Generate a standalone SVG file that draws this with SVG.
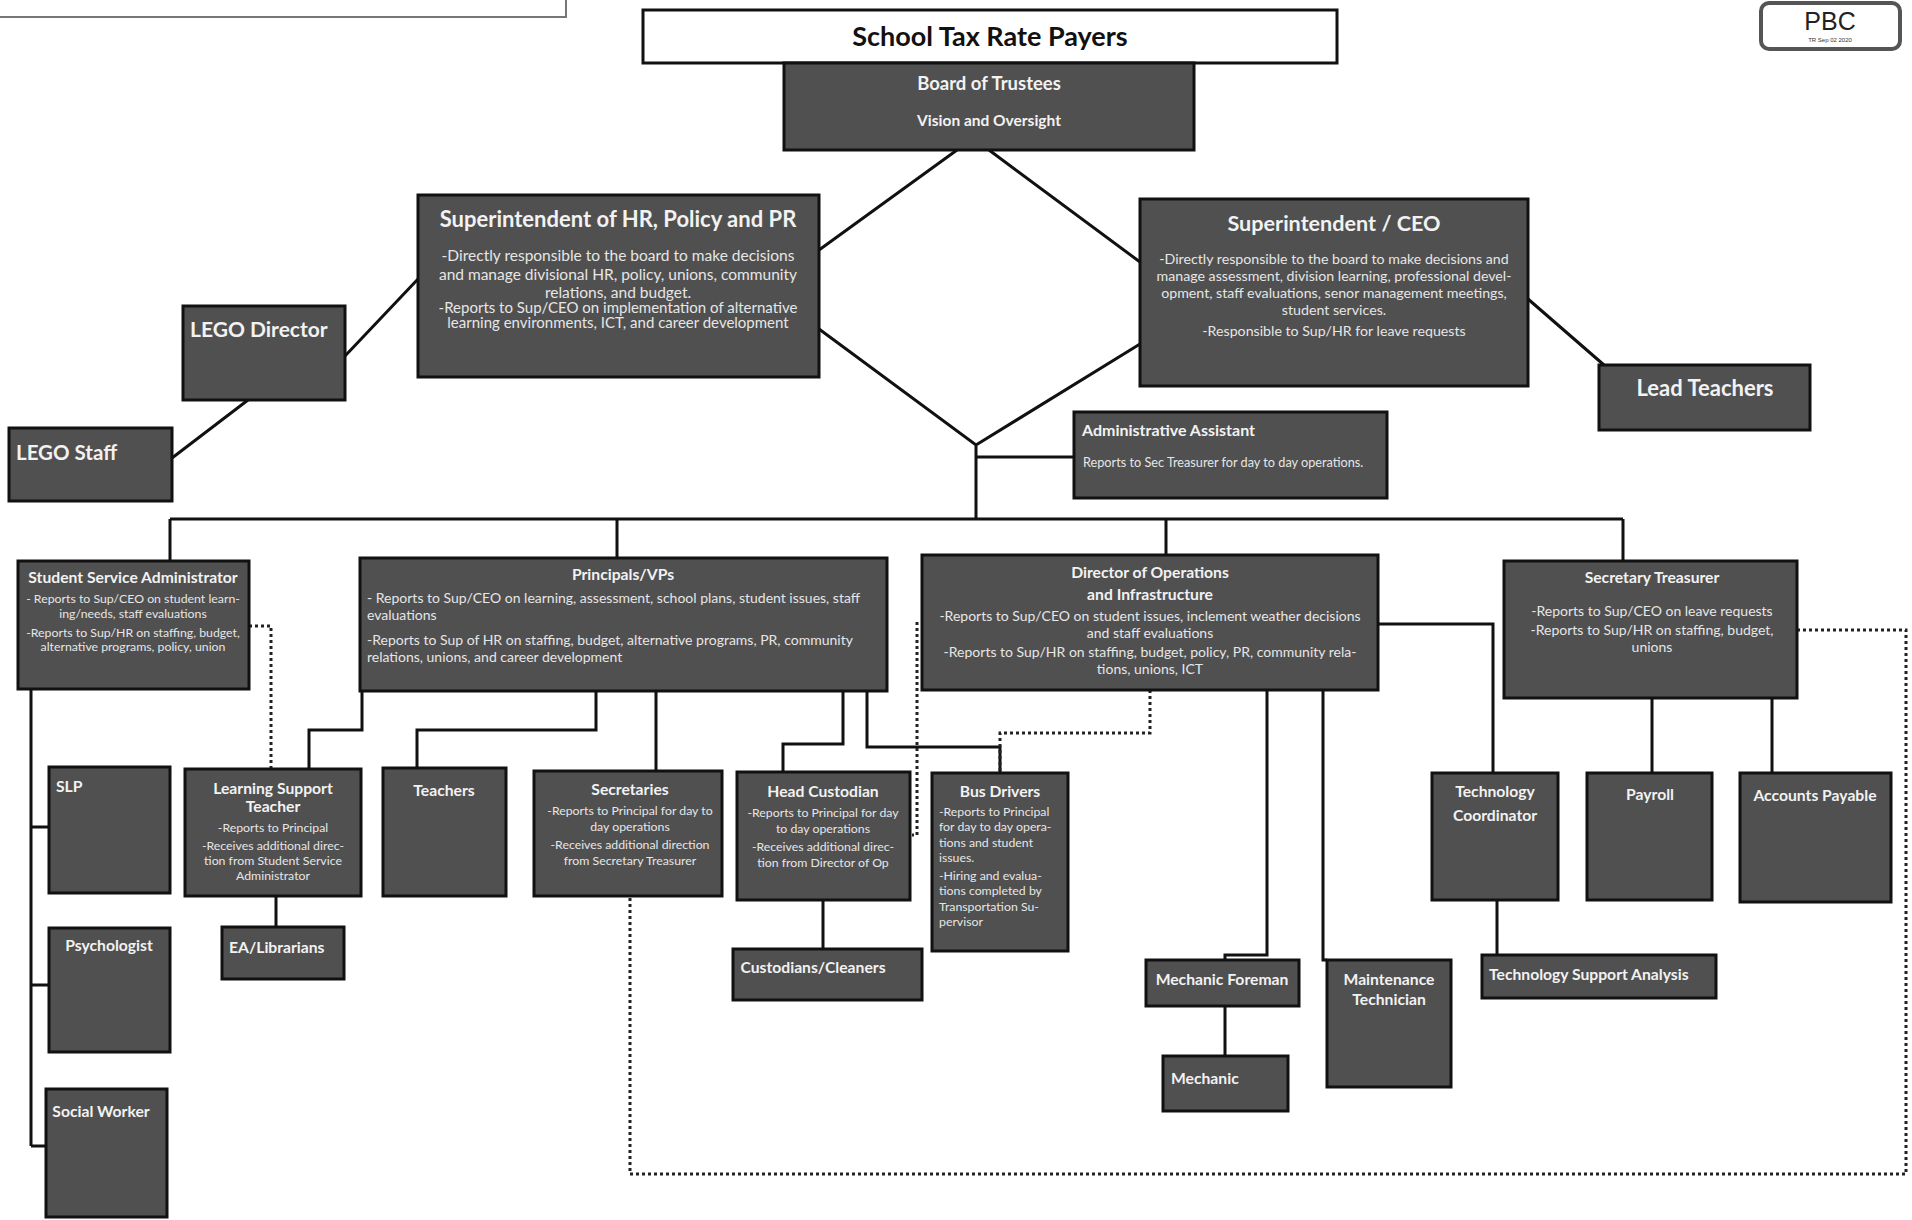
<svg xmlns="http://www.w3.org/2000/svg" width="1912" height="1220" viewBox="0 0 1912 1220">
<style>
.n{fill:#505050;stroke:#111;stroke-width:3}
.w{fill:#fff;stroke:#111;stroke-width:3}
.t{font-family:Lato,"Open Sans",sans-serif;font-weight:bold;fill:#f2f2f2;text-anchor:middle}
.s{font-size:15.7px}
.b{font-family:Lato,"Open Sans",sans-serif;fill:#e6e6e6;text-anchor:middle}
.l{text-anchor:start}
.c{fill:none;stroke:#111;stroke-width:3}
.d{fill:none;stroke:#222;stroke-width:3;stroke-dasharray:3 3}
</style>
<rect width="1912" height="1220" fill="#fff"/>
<path d="M0 17H566V0" fill="none" stroke="#777" stroke-width="2"/>
<g id="pbc">
<rect x="1761" y="3" width="139" height="46" rx="8" fill="#fff" stroke="#555" stroke-width="4"/>
<text x="1830" y="30" font-family="Liberation Sans,sans-serif" font-size="25" text-anchor="middle" fill="#222">PBC</text>
<text x="1830" y="42" font-family="Liberation Sans,sans-serif" font-size="6" text-anchor="middle" fill="#333">TR Sep 02 2020</text>
</g>
<g id="connectors">
<path class="c" d="M957 150L819 250M989 150L1140 262M819 329L976 445L1140 344M976 445V519M976 457H1074"/>
<path class="c" d="M345 356L418 279M172 458L248 400M1528 299L1604 365"/>
<path class="c" d="M170 519H1623M170 519V561M617 519V558M1166 519V555M1623 519V561"/>
<path class="c" d="M31 689V1146M31 827H49M31 985H49M31 1146H46"/>
<path class="c" d="M362 691V730H309V769M596 691V730H417V768M656 691V771M843 691V744H783V772M867 691V747H1000V773"/>
<path class="c" d="M276 896V927M823 900V949"/>
<path class="c" d="M1378 624H1493V773M1267 690V955H1225V960M1225 1006V1056M1323 690V960H1327M1497 900V955M1652 698V773M1772 698V773"/>
<path class="d" d="M249 626H271V769M917 622V835H912M1150 690V733H1000V773M1797 630H1906V1174H630V896"/>
</g>
<g id="taxpayers"><rect class="w" x="643" y="10" width="694" height="53"/><text x="990" y="46" font-family="Lato,sans-serif" font-weight="bold" font-size="27" text-anchor="middle" fill="#111">School Tax Rate Payers</text></g>
<g id="board"><rect class="n" x="784" y="63" width="410" height="87"/><text class="t" x="989" y="90" font-size="18.5">Board of Trustees</text><text class="t" x="989" y="126" font-size="15.5">Vision and Oversight</text></g>
<g id="supHR"><rect class="n" x="418" y="195" width="401" height="182"/><text class="t" x="618" y="227" font-size="22">Superintendent of HR, Policy and PR</text>
<text class="b" x="618" y="261" font-size="15.5">-Directly responsible to the board to make decisions</text>
<text class="b" x="618" y="280" font-size="15.5">and manage divisional  HR, policy,  unions, community</text>
<text class="b" x="618" y="298" font-size="15.5">relations, and budget.</text>
<text class="b" x="618" y="313" font-size="15">-Reports to Sup/CEO on implementation of alternative</text>
<text class="b" x="618" y="328" font-size="15">learning environments, ICT, and career development</text></g>
<g id="supCEO"><rect class="n" x="1140" y="199" width="388" height="187"/><text class="t" x="1334" y="231" font-size="21.6">Superintendent / CEO</text>
<text class="b" x="1334" y="264" font-size="14.2">-Directly responsible to the board to make decisions and</text>
<text class="b" x="1334" y="281" font-size="14.2">manage assessment, division learning, professional devel-</text>
<text class="b" x="1334" y="298" font-size="14.2">opment, staff evaluations, senor management meetings,</text>
<text class="b" x="1334" y="315" font-size="14.2">student services.</text>
<text class="b" x="1334" y="336" font-size="14.2">-Responsible to Sup/HR for leave requests</text></g>
<g id="legoDirector"><rect class="n" x="183" y="306" width="162" height="94"/><text class="t l" x="190" y="337" font-size="21">LEGO Director</text></g>
<g id="legoStaff"><rect class="n" x="9" y="428" width="163" height="73"/><text class="t l" x="16" y="460" font-size="20.5">LEGO Staff</text></g>
<g id="leadTeachers"><rect class="n" x="1599" y="365" width="211" height="65"/><text class="t" x="1705" y="396" font-size="22">Lead Teachers</text></g>
<g id="adminAssistant"><rect class="n" x="1074" y="412" width="313" height="86"/><text class="t l" x="1082" y="436" font-size="16">Administrative Assistant</text><text class="b l" x="1083" y="467" font-size="12.7">Reports to Sec Treasurer for day to day operations.</text></g>
<g id="ssa"><rect class="n" x="18" y="561" width="231" height="128"/><text class="t s" x="133" y="583">Student Service Administrator</text>
<text class="b" x="133" y="603" font-size="12.3">- Reports to Sup/CEO on student learn-</text>
<text class="b" x="133" y="618" font-size="12.3">ing/needs, staff evaluations</text>
<text class="b" x="133" y="637" font-size="12.3">-Reports to Sup/HR on staffing, budget,</text>
<text class="b" x="133" y="651" font-size="12.3">alternative programs, policy, union</text></g>
<g id="principals"><rect class="n" x="360" y="558" width="527" height="133"/><text class="t s" x="623" y="580">Principals/VPs</text>
<text class="b l" x="367" y="603" font-size="14">- Reports to Sup/CEO on learning, assessment, school plans, student issues, staff</text>
<text class="b l" x="367" y="620" font-size="14">evaluations</text>
<text class="b l" x="367" y="645" font-size="14">-Reports to Sup of HR on staffing, budget, alternative programs, PR, community</text>
<text class="b l" x="367" y="662" font-size="14">relations, unions, and career development</text></g>
<g id="dirOps"><rect class="n" x="922" y="555" width="456" height="135"/><text class="t s" x="1150" y="578">Director of Operations</text><text class="t s" x="1150" y="600">and Infrastructure</text>
<text class="b" x="1150" y="621" font-size="14">-Reports to Sup/CEO on student issues, inclement weather decisions</text>
<text class="b" x="1150" y="638" font-size="14">and staff evaluations</text>
<text class="b" x="1150" y="657" font-size="14">-Reports to Sup/HR on staffing, budget, policy, PR, community rela-</text>
<text class="b" x="1150" y="674" font-size="14">tions, unions, ICT</text></g>
<g id="secTreasurer"><rect class="n" x="1504" y="561" width="293" height="137"/><text class="t s" x="1652" y="583">Secretary Treasurer</text>
<text class="b" x="1652" y="616" font-size="14">-Reports to Sup/CEO on leave requests</text>
<text class="b" x="1652" y="635" font-size="14">-Reports to Sup/HR on staffing, budget,</text>
<text class="b" x="1652" y="652" font-size="14">unions</text></g>
<g id="slp"><rect class="n" x="49" y="767" width="121" height="126"/><text class="t l s" x="56" y="792">SLP</text></g>
<g id="psychologist"><rect class="n" x="49" y="928" width="121" height="124"/><text class="t s" x="109" y="951">Psychologist</text></g>
<g id="socialWorker"><rect class="n" x="46" y="1089" width="121" height="128"/><text class="t s" x="101" y="1117">Social Worker</text></g>
<g id="lst"><rect class="n" x="185" y="769" width="176" height="127"/><text class="t s" x="273" y="794">Learning Support</text><text class="t s" x="273" y="812">Teacher</text>
<text class="b" x="273" y="832" font-size="12.3">-Reports to Principal</text>
<text class="b" x="273" y="850" font-size="12.3">-Receives additional direc-</text>
<text class="b" x="273" y="865" font-size="12.3">tion from Student Service</text>
<text class="b" x="273" y="880" font-size="12.3">Administrator</text></g>
<g id="ea"><rect class="n" x="222" y="927" width="122" height="52"/><text class="t l s" x="229" y="953">EA/Librarians</text></g>
<g id="teachers"><rect class="n" x="383" y="768" width="123" height="128"/><text class="t s" x="444" y="796">Teachers</text></g>
<g id="secretaries"><rect class="n" x="534" y="771" width="188" height="125"/><text class="t s" x="630" y="795">Secretaries</text>
<text class="b" x="630" y="815" font-size="12.3">-Reports to Principal for day to</text>
<text class="b" x="630" y="831" font-size="12.3">day operations</text>
<text class="b" x="630" y="849" font-size="12.3">-Receives additional direction</text>
<text class="b" x="630" y="865" font-size="12.3">from Secretary Treasurer</text></g>
<g id="headCustodian"><rect class="n" x="737" y="772" width="173" height="128"/><text class="t s" x="823" y="797">Head Custodian</text>
<text class="b" x="823" y="817" font-size="12.3">-Reports to Principal for day</text>
<text class="b" x="823" y="833" font-size="12.3">to day operations</text>
<text class="b" x="823" y="851" font-size="12.3">-Receives additional direc-</text>
<text class="b" x="823" y="867" font-size="12.3">tion from Director of Op</text></g>
<g id="custodians"><rect class="n" x="733" y="949" width="189" height="51"/><text class="t s" x="813" y="973">Custodians/Cleaners</text></g>
<g id="busDrivers"><rect class="n" x="932" y="773" width="136" height="178"/><text class="t s" x="1000" y="797">Bus Drivers</text>
<text class="b l" x="939" y="816" font-size="12.3">-Reports to Principal</text>
<text class="b l" x="939" y="831" font-size="12.3">for day to day opera-</text>
<text class="b l" x="939" y="847" font-size="12.3">tions and student</text>
<text class="b l" x="939" y="862" font-size="12.3">issues.</text>
<text class="b l" x="939" y="880" font-size="12.3">-Hiring and evalua-</text>
<text class="b l" x="939" y="895" font-size="12.3">tions completed by</text>
<text class="b l" x="939" y="911" font-size="12.3">Transportation Su-</text>
<text class="b l" x="939" y="926" font-size="12.3">pervisor</text></g>
<g id="mechanicForeman"><rect class="n" x="1146" y="960" width="153" height="46"/><text class="t s" x="1222" y="985">Mechanic  Foreman</text></g>
<g id="mechanic"><rect class="n" x="1163" y="1056" width="125" height="55"/><text class="t l s" x="1171" y="1084">Mechanic</text></g>
<g id="maintenance"><rect class="n" x="1327" y="960" width="124" height="127"/><text class="t s" x="1389" y="985">Maintenance</text><text class="t s" x="1389" y="1005">Technician</text></g>
<g id="techCoord"><rect class="n" x="1432" y="773" width="126" height="127"/><text class="t s" x="1495" y="797">Technology</text><text class="t s" x="1495" y="821">Coordinator</text></g>
<g id="payroll"><rect class="n" x="1587" y="773" width="125" height="127"/><text class="t s" x="1650" y="800">Payroll</text></g>
<g id="accountsPayable"><rect class="n" x="1740" y="773" width="151" height="129"/><text class="t s" x="1815" y="801">Accounts Payable</text></g>
<g id="techSupport"><rect class="n" x="1482" y="955" width="234" height="43"/><text class="t l s" x="1489" y="980">Technology Support Analysis</text></g>
</svg>
